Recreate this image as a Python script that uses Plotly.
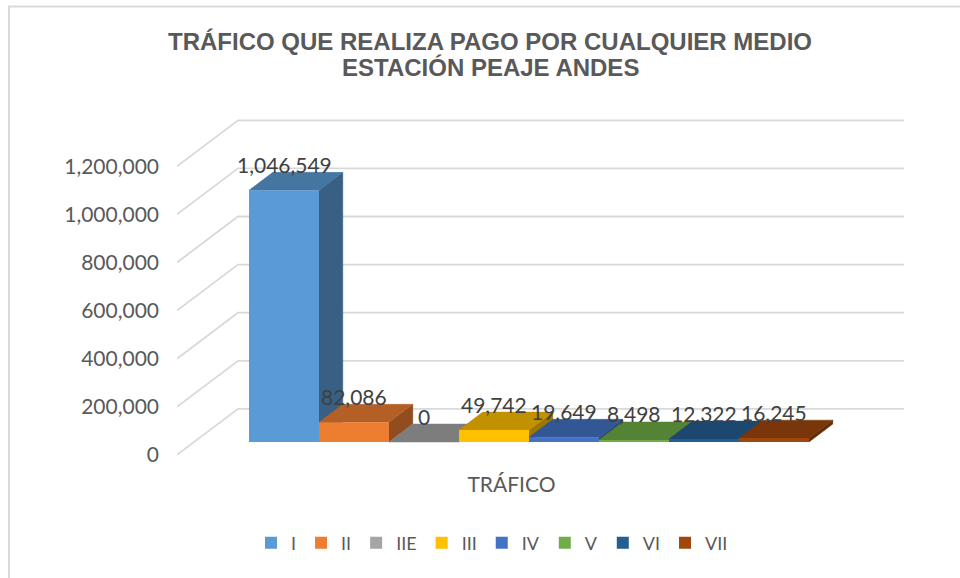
import plotly.graph_objects as go

# ---- data ----
categorias = ["I", "II", "IIE", "III", "IV", "V", "VI", "VII"]
trafico = [1046549, 82086, 0, 49742, 19649, 8498, 12322, 16245]
colores = ["#5B9BD5", "#ED7D31", "#A5A5A5", "#FFC000",
           "#4472C4", "#70AD47", "#255E91", "#9E480E"]
valores_eje = [0, 200000, 400000, 600000, 800000, 1000000, 1200000]

# ---- page / projection geometry (pixels) ----
W, H = 960, 578
PLOT_L, PLOT_R, PLOT_T, PLOT_B = 177, 910, 100, 465
PX_CAT = 70.0           # width of one column
PX_STEP = 48.1          # pixels per 200,000
BAR_LEFT_PX = 249.0     # left edge of first column front face
BAR_BASE_PX = 442.0     # base line of column front faces
DEPTH_PX = (61.0, 46.0) # full floor depth (right, up)
F0, F1 = 0.28, 0.67     # column front/back position inside the depth
WALL_RIGHT_PX = 904.0   # right end of back wall

ux = 1.0 / PX_CAT
uy = 200000.0 / PX_STEP


def px_to_x(px):
    return (px - BAR_LEFT_PX) * ux - 0.5


def px_to_y(py):
    return (BAR_BASE_PX - py) * uy


x_range = [px_to_x(PLOT_L), px_to_x(PLOT_R)]
y_range = [px_to_y(PLOT_B), px_to_y(PLOT_T)]

DX = DEPTH_PX[0] * ux
DY = DEPTH_PX[1] * uy
bdx = (F1 - F0) * DX
bdy = (F1 - F0) * DY

# walls, expressed in the plane of the column fronts
x_wall_l = px_to_x(PLOT_L) + F0 * DX
x_wall_r = px_to_x(WALL_RIGHT_PX) - (1 - F0) * DX


def shade(hex_color, f):
    h = hex_color.lstrip("#")
    r, g, b = (int(h[i:i + 2], 16) for i in (0, 2, 4))
    return "rgb({},{},{})".format(int(r * f), int(g * f), int(b * f))


fig = go.Figure()

# wall gridlines: back wall horizontals + left wall diagonals
gx, gy = [], []
for g in valores_eje:
    back_y = g + (1 - F0) * DY
    gx += [x_wall_l - F0 * DX, x_wall_l + (1 - F0) * DX, x_wall_r + (1 - F0) * DX, None]
    gy += [g - F0 * DY, back_y, back_y, None]
fig.add_trace(go.Scatter(x=gx, y=gy, mode="lines",
                         line=dict(color="#D9D9D9", width=1.8),
                         hoverinfo="skip", showlegend=False))

# top and right-side faces of each column, painted left to right
for i, (v, c) in enumerate(zip(trafico, colores)):
    xr = i + 0.5
    side_x = [xr, xr + bdx, xr + bdx, xr, xr]
    side_y = [0, bdy, v + bdy, v, 0]
    fig.add_trace(go.Scatter(x=side_x, y=side_y, fill="toself", mode="lines",
                             fillcolor=shade(c, 0.62),
                             line=dict(color=shade(c, 0.62), width=0.5),
                             hoverinfo="skip", showlegend=False))
    top_x = [i - 0.5, xr, xr + bdx, i - 0.5 + bdx, i - 0.5]
    top_y = [v, v, v + bdy, v + bdy, v]
    fig.add_trace(go.Scatter(x=top_x, y=top_y, fill="toself", mode="lines",
                             fillcolor=shade(c, 0.76),
                             line=dict(color=shade(c, 0.76), width=0.5),
                             hoverinfo="skip", showlegend=False))

# front faces on an overlaid subplot so they sit above the faces behind them
for i, (cat, v, c) in enumerate(zip(categorias, trafico, colores)):
    fig.add_trace(go.Bar(x=[i], y=[v], width=1, name=cat,
                         marker=dict(color=c, line=dict(width=0)),
                         xaxis="x2", yaxis="y2"))
    fig.add_annotation(x=i, y=v, xref="x", yref="y", text=f"{v:,}",
                       showarrow=False, yshift=26, yanchor="middle",
                       font=dict(family="Lato", size=21, color="#404040"))

title_font = dict(family="Liberation Sans", size=24, color="#595959", weight="bold")
for txt, py in [("TRÁFICO QUE REALIZA PAGO POR CUALQUIER MEDIO", 42),
                ("ESTACIÓN PEAJE ANDES", 67.5)]:
    fig.add_annotation(text=txt, xref="paper", yref="paper",
                       x=(490 - PLOT_L) / (PLOT_R - PLOT_L),
                       y=(PLOT_B - py) / (PLOT_B - PLOT_T),
                       xanchor="center", yanchor="middle", showarrow=False,
                       font=title_font)

# chart-area border
fig.add_shape(type="rect", xref="paper", yref="paper",
              x0=(9 - PLOT_L) / (PLOT_R - PLOT_L), x1=1.5,
              y0=-1.0, y1=(PLOT_B - 6.5) / (PLOT_B - PLOT_T),
              line=dict(color="#D9D9D9", width=2))

axis_font = dict(family="Lato", size=21, color="#595959")
fig.update_layout(
    width=W, height=H,
    margin=dict(l=PLOT_L, r=W - PLOT_R, t=PLOT_T, b=H - PLOT_B),
    paper_bgcolor="white", plot_bgcolor="white",
    barmode="overlay",
    showlegend=True,
    legend=dict(orientation="h", x=(492 - PLOT_L) / (PLOT_R - PLOT_L),
                xanchor="center", y=(PLOT_B - 543) / (PLOT_B - PLOT_T),
                yanchor="middle", font=dict(family="Lato", size=18, color="#595959"),
                itemwidth=30, bgcolor="rgba(0,0,0,0)"),
    xaxis=dict(range=x_range, showgrid=False, zeroline=False, showline=False,
               tickvals=[3.25], ticktext=["TRÁFICO"], ticks="",
               ticklabelstandoff=5, tickfont=axis_font, fixedrange=True),
    yaxis=dict(range=y_range, showgrid=False, zeroline=False, showline=False,
               tickvals=[g - F0 * DY for g in valores_eje],
               ticktext=[f"{g:,}" for g in valores_eje], ticks="",
               ticklabelstandoff=17, tickfont=axis_font, fixedrange=True),
    xaxis2=dict(range=x_range, overlaying="x", visible=False, fixedrange=True),
    yaxis2=dict(range=y_range, overlaying="y", visible=False, fixedrange=True),
)

fig.write_html("out.html")
